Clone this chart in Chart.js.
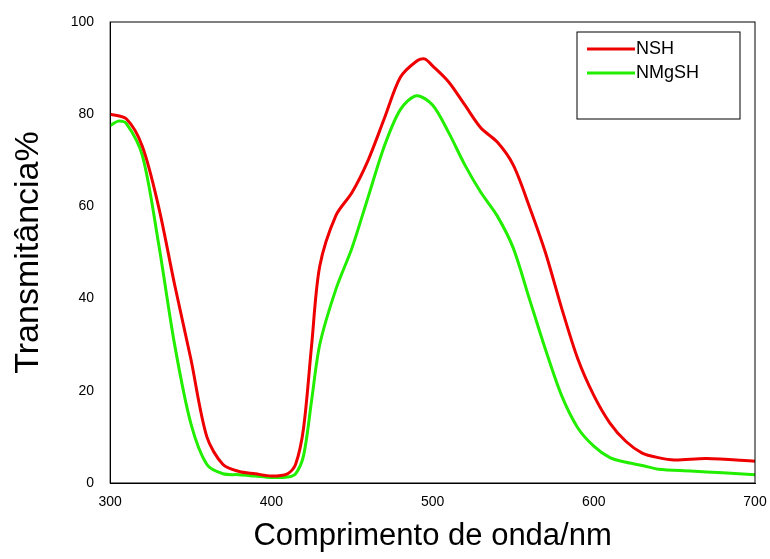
<!DOCTYPE html>
<html><head><meta charset="utf-8">
<script src="https://cdn.jsdelivr.net/npm/chart.js@4"></script>
<style>body{margin:0;background:#fff}#wrap{width:770px;height:559px}</style>
</head><body><div id="wrap"><canvas id="c"></canvas></div>
<script>
const nshX = [300,310,320,330,340,350,360,370,380,390,400,410,415,420,425,430,440,450,460,470,480,490,495,500,510,520,530,540,550,560,570,580,590,600,610,620,630,640,650,670,700];
const nshY = [80,79,73,60,43,27,10,4,2.5,2,1.5,2,4,12,30,47,58,63,70,79,88,91.5,92,90.5,87,82,77,74,69,60,50,38,27,19,13,9,6.5,5.5,5,5.3,4.7];
const nmgX = [300,305,310,320,330,340,350,360,370,380,390,400,410,415,420,425,430,440,450,460,470,480,490,500,510,520,530,540,550,560,570,580,590,600,610,620,630,640,660,680,700];
const nmgY = [77.5,78.5,78,71,52,30,13,4,2,1.8,1.5,1.2,1.3,2,6,18,30,42,51,62,73,81,84,82,76,69,63,58,51,40,29,19,12,8,5.5,4.5,3.8,3,2.6,2.2,1.8];

const pts = (xs, ys) => xs.map((x, i) => ({ x, y: ys[i] }));

const frame = {
  id: "frame",
  afterDraw(chart) {
    const { ctx, chartArea: a } = chart;
    ctx.save();
    ctx.strokeStyle = "#000";
    ctx.lineWidth = 1;
    ctx.strokeRect(a.left, a.top, a.right - a.left, a.bottom - a.top);
    // legend box
    const bx = 577, by = 32, bw = 163, bh = 87;
    ctx.strokeRect(bx, by, bw, bh);
    ctx.font = "18px 'Liberation Sans', Arial";
    ctx.textBaseline = "middle";
    chart.data.datasets.forEach((ds, i) => {
      const y = by + 17 + i * 24;
      ctx.strokeStyle = ds.borderColor;
      ctx.lineWidth = 3;
      ctx.beginPath(); ctx.moveTo(bx + 10, y); ctx.lineTo(bx + 58, y); ctx.stroke();
      ctx.fillStyle = "#000";
      ctx.fillText(ds.label, bx + 59, y);
    });
    ctx.restore();
  },
};

new Chart(document.getElementById("c"), {
  type: "line",
  data: {
    datasets: [
      { label: "NSH", data: pts(nshX, nshY), borderColor: "#ee0000", borderWidth: 3, pointRadius: 0, tension: 0.3 },
      { label: "NMgSH", data: pts(nmgX, nmgY), borderColor: "#22ee00", borderWidth: 3, pointRadius: 0, tension: 0.3 },
    ],
  },
  options: {
    responsive: true,
    maintainAspectRatio: false,
    animation: false,
    layout: { padding: { top: 22, right: 15, left: 4 } },
    plugins: { legend: { display: false }, tooltip: { enabled: false } },
    scales: {
      x: {
        type: "linear", min: 300, max: 700,
        ticks: { stepSize: 100, color: "#000", font: { size: 14, family: "'Liberation Sans', Arial" } },
        grid: { display: false, drawTicks: true },
        border: { color: "#000" },
        title: { display: true, text: "Comprimento de onda/nm", color: "#000", font: { size: 31, family: "'Liberation Sans', Arial" } },
      },
      y: {
        min: 0, max: 100,
        ticks: { stepSize: 20, color: "#000", font: { size: 14, family: "'Liberation Sans', Arial" }, padding: 8 },
        grid: { display: false },
        border: { color: "#000" },
        title: { display: true, text: "Transmitância%", color: "#000", font: { size: 34, family: "'Liberation Sans', Arial" }, padding: { bottom: 14 } },
      },
    },
  },
  plugins: [frame],
});
</script></body></html>
